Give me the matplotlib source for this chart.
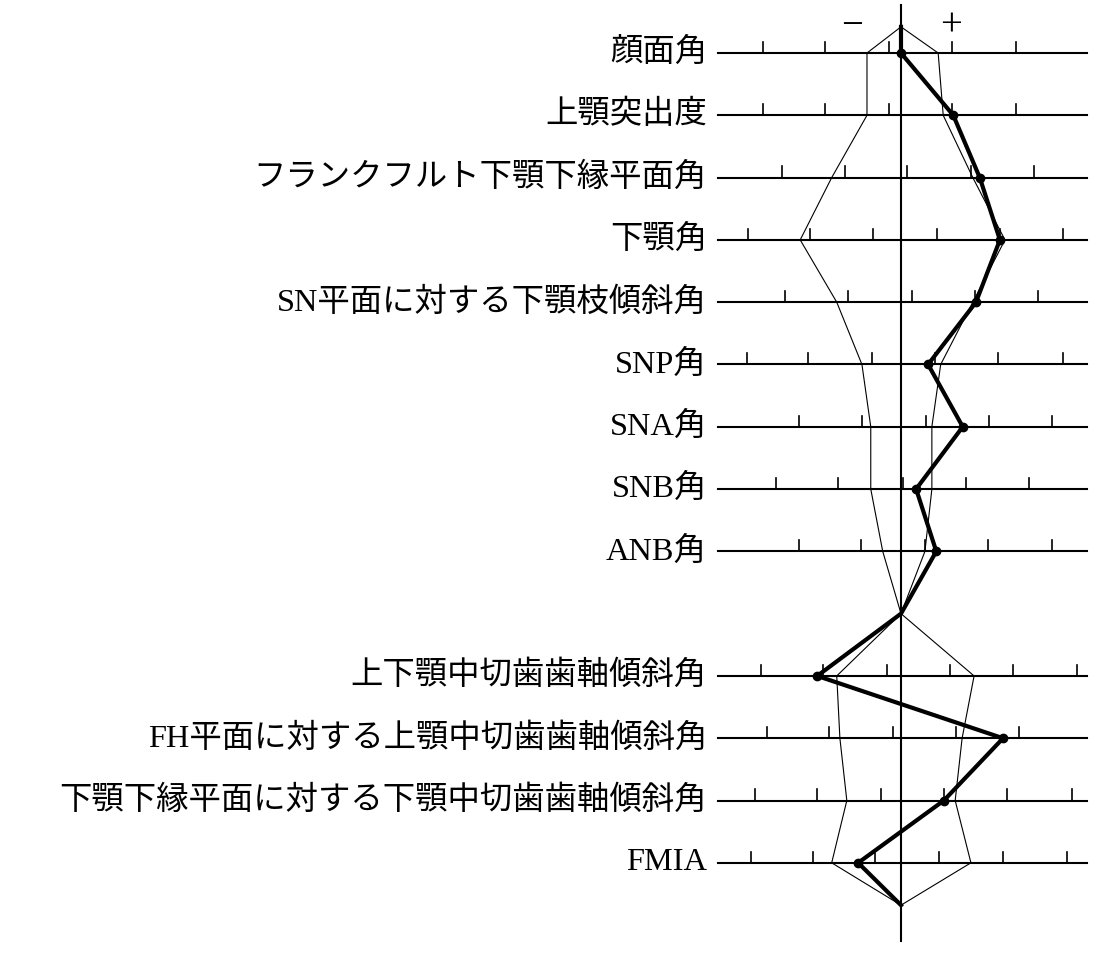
import numpy as np
import matplotlib
matplotlib.use("Agg")
import matplotlib.pyplot as plt

# polygonogram: one row per measurement, values in tick units (0 = norm centre)
labels = ["顔面角", "上顎突出度", "フランクフルト下顎下縁平面角", "下顎角",
          "SN平面に対する下顎枝傾斜角", "SNP角", "SNA角", "SNB角", "ANB角",
          "",
          "上下顎中切歯歯軸傾斜角", "FH平面に対する上顎中切歯歯軸傾斜角",
          "下顎下縁平面に対する下顎中切歯歯軸傾斜角", "FMIA"]

# norm band (left / right edge of the polygon)
band_lo = [-0.54, -0.54, -1.10, -1.60, -1.02, -0.62, -0.48, -0.48, -0.29, 0.0,
           -1.02, -0.97, -0.86, -1.10]
band_hi = [0.59, 0.67, 1.14, 1.65, 1.14, 0.63, 0.49, 0.49, 0.38, 0.0,
           1.16, 0.97, 0.86, 1.11]

# patient values
patient = [0.0, 0.83, 1.25, 1.57, 1.19, 0.43, 0.98, 0.24, 0.56, 0.0,
           -1.33, 1.62, 0.68, -0.68]

# scale ticks on each row
row_ticks = [
    [-2.19, -1.21, -0.19, 0.81, 1.83],
    [-2.19, -1.21, -0.19, 0.81, 1.83],
    [-1.89, -0.89, 0.10, 1.11, 2.11],
    [-2.43, -1.44, -0.44, 0.57, 1.57, 2.57],
    [-1.84, -0.84, 0.17, 1.17, 2.17],
    [-2.44, -1.48, -0.46, 0.54, 1.54, 2.57],
    [-1.62, -0.62, 0.40, 1.40, 2.40],
    [-1.98, -1.00, 0.03, 1.03, 2.03],
    [-1.62, -0.63, 0.38, 1.38, 2.40],
    [],
    [-2.22, -1.24, -0.22, 0.78, 1.78, 2.79],
    [-2.13, -1.14, -0.13, 0.87, 1.87],
    [-2.32, -1.33, -0.32, 0.68, 1.68, 2.71],
    [-2.38, -1.40, -0.41, 0.60, 1.62, 2.63],
]

top_y, bottom_y = -0.42, 13.68   # apex points of the polygon

jp_font = ["Liberation Serif", "Noto Sans CJK JP"]

fig = plt.figure(figsize=(11.01, 9.60), dpi=100)
ax = fig.add_axes([0, 0, 1, 1])
ax.set_xlim(-901 / 63, 200 / 63)
ax.set_ylim(14.56, -0.851)
ax.axis("off")

rows = np.arange(len(labels))

# horizontal scale lines with ticks
for i, lab in enumerate(labels):
    if lab == "":
        continue
    ax.plot([-2.9, 2.95], [i, i], color="black", lw=1.5)
    for t in row_ticks[i]:
        ax.plot([t, t], [i, i - 0.18], color="black", lw=1.2)
    ax.text(-3.08, i, lab, ha="right", va="center", fontsize=23.3,
            family=jp_font)

# centre line
ax.plot([0, 0], [-0.77, 14.25], color="black", lw=1.5)

# norm polygon
ys = np.concatenate([[top_y], rows, [bottom_y]])
ax.plot(np.concatenate([[0], band_lo, [0]]), ys, color="black", lw=0.8)
ax.plot(np.concatenate([[0], band_hi, [0]]), ys, color="black", lw=0.8)

# patient profile
ax.plot(np.concatenate([[0], patient, [0]]), ys, color="black", lw=3)
pts = [i for i in range(len(labels)) if labels[i] != ""]
ax.plot(np.array(patient)[pts], rows[pts], "o", color="black", ms=6)

# sign markers
ax.text(-0.78, -0.43, "−", ha="center", va="center", fontsize=28,
        family="Liberation Serif")
ax.text(0.80, -0.43, "+", ha="center", va="center", fontsize=28,
        family="Liberation Serif")

fig.savefig("out.png", dpi=100)
